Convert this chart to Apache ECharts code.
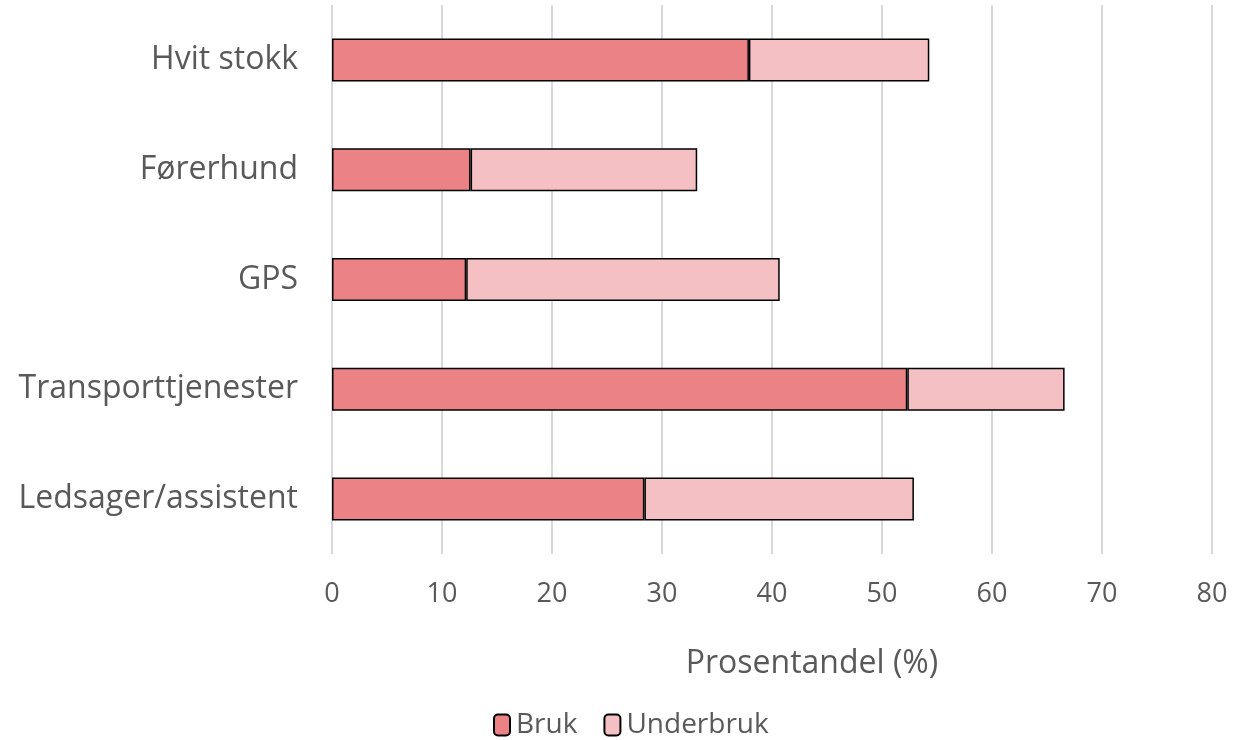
<!DOCTYPE html>
<html>
<head>
<meta charset="utf-8">
<script src="https://cdn.jsdelivr.net/npm/echarts@6/dist/echarts.min.js"></script>
<style>
  html, body { margin: 0; padding: 0; background: #fff; }
  #chart { width: 1233px; height: 740px; }
</style>
</head>
<body>
<div id="chart"></div>
<script>
  // kategorier (ovenfra og ned)
  var categories = ['Hvit stokk', 'Førerhund', 'GPS', 'Transporttjenester', 'Ledsager/assistent'];
  // verdier lest av figuren
  var bruk = [37.9, 12.6, 12.2, 52.3, 28.4];
  var underbruk = [16.4, 20.6, 28.5, 14.3, 24.5];
  var xTicks = [0, 10, 20, 30, 40, 50, 60, 70, 80];

  var font = '"Open Sans", Lato, sans-serif';
  var chart = echarts.init(document.getElementById('chart'));

  chart.setOption({
    animation: false,
    textStyle: { fontFamily: font },
    grid: {
      left: 332,
      width: 880,
      top: 5,
      height: 549
    },
    legend: {
      bottom: -4,
      left: 488,
      itemWidth: 16,
      itemHeight: 21,
      itemGap: 26,
      textStyle: { fontSize: 28, color: '#595959', fontFamily: font, padding: [0, 0, 0, 1] },
      data: ['Bruk', 'Underbruk']
    },
    xAxis: {
      type: 'value',
      min: xTicks[0],
      max: xTicks[xTicks.length - 1],
      interval: 10,
      name: 'Prosentandel (%)',
      nameLocation: 'middle',
      nameGap: 94,
      nameTextStyle: { fontSize: 32, color: '#595959', padding: [0, 0, 0, 80] },
      axisLine: { show: false },
      axisTick: { show: false },
      axisLabel: { fontSize: 27, color: '#595959', margin: 27 },
      splitLine: { lineStyle: { color: '#d9d9d9', width: 2 } }
    },
    yAxis: {
      type: 'category',
      inverse: true,
      data: categories,
      axisLine: { show: false },
      axisTick: { show: false },
      axisLabel: { fontSize: 32, color: '#595959', margin: 34 }
    },
    series: [
      {
        name: 'Bruk',
        type: 'bar',
        stack: 'total',
        barWidth: 43,
        data: bruk,
        itemStyle: { color: '#EA8286', borderColor: '#000', borderWidth: 1.5 }
      },
      {
        name: 'Underbruk',
        type: 'bar',
        stack: 'total',
        barWidth: 43,
        data: underbruk,
        itemStyle: { color: '#F4C0C3', borderColor: '#000', borderWidth: 1.5 }
      }
    ]
  });
</script>
</body>
</html>
